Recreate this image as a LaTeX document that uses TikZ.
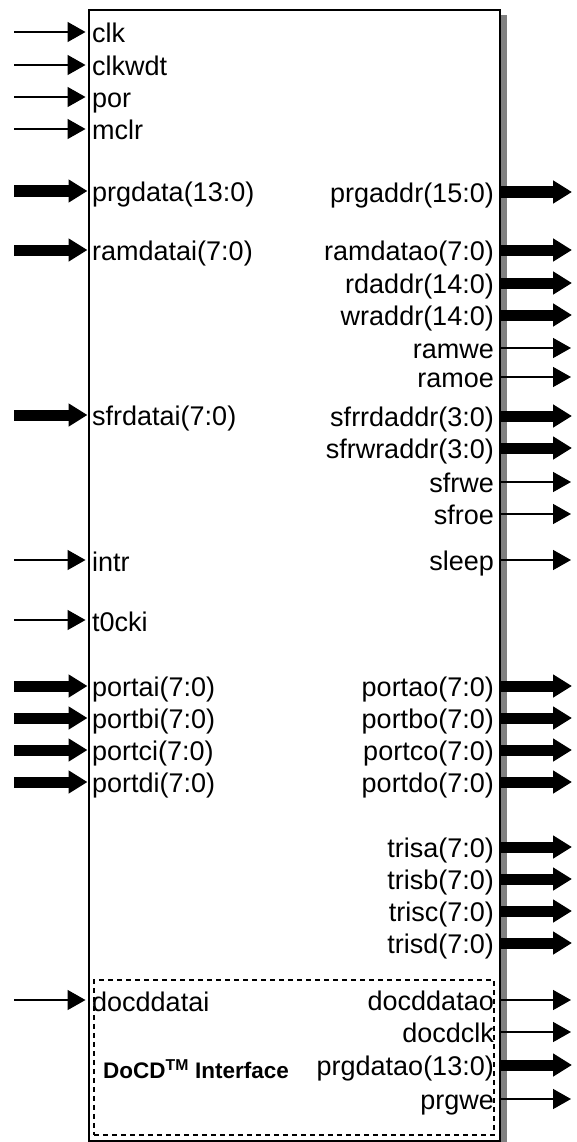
\documentclass[tikz,border=0pt]{standalone}
\usepackage{fontspec}
\setmainfont{Liberation Sans}
\usetikzlibrary{arrows.meta}
\tikzset{
  lbl/.style={inner sep=0pt, font=\fontsize{27}{30}\selectfont},
  thinarrow/.style={line width=1.5pt, -{Triangle[length=18pt,width=20pt]}},
  thickarrow/.style={line width=11pt, -{Triangle[length=19pt,width=22pt]}},
  chipbox/.style={draw=black, line width=2pt, fill=white, inner sep=0pt, anchor=north west},
  docdbox/.style={draw=black, line width=1.5pt, dash pattern=on 5pt off 4pt, inner sep=0pt, anchor=north west},
  shadowbar/.style={fill=black!50, draw=none},
}
\begin{document}
\begin{tikzpicture}[x=1pt,y=-1pt]
\useasboundingbox (0,0) rectangle (577,1142);
% shadow
\fill[shadowbar] (500,15) rectangle (507,1142);
% chip
\node[chipbox, minimum width=411.5pt, minimum height=1131pt] (chip) at (87.5,9) {};
% DoCD region
\node[docdbox, minimum width=400pt, minimum height=155pt] (docd) at (93,979) {};
\node[anchor=base west, inner sep=0pt, font=\bfseries\fontsize{22.5}{25}\selectfont] (docdlbl) at (103,1078) {DoCD\textsuperscript{TM} Interface};
% left thin inputs
\foreach \t/\y [count=\i] in {clk/32, clkwdt/65, por/97, mclr/129, intr/560, t0cki/620, docddatai/1000}{
  \node[lbl, anchor=base west] (lt\i) at (92,{\y+11}) {\t};
  \coordinate (ltp\i) at (14,\y);
  \draw[thinarrow, shorten >=2pt] (ltp\i) -- (chip.west |- ltp\i);
}
% left thick inputs
\foreach \t/\y [count=\i] in {prgdata(13:0)/191, ramdatai(7:0)/250, sfrdatai(7:0)/415, portai(7:0)/686, portbi(7:0)/718, portci(7:0)/750, portdi(7:0)/782}{
  \node[lbl, anchor=base west] (lk\i) at (92,{\y+10}) {\t};
  \coordinate (lkp\i) at (14,\y);
  \draw[thickarrow] (lkp\i) -- (chip.west |- lkp\i);
}
% right thick outputs
\foreach \t/\y [count=\i] in {prgaddr(15:0)/192, ramdatao(7:0)/250, rdaddr(14:0)/283, wraddr(14:0)/315, sfrrdaddr(3:0)/416, sfrwraddr(3:0)/448, portao(7:0)/686, portbo(7:0)/718, portco(7:0)/750, portdo(7:0)/782, trisa(7:0)/847, trisb(7:0)/879, trisc(7:0)/911, trisd(7:0)/943, prgdatao(13:0)/1065}{
  \node[lbl, anchor=base east] (rk\i) at (494,{\y+10}) {\t};
  \coordinate (rkp\i) at (572,\y);
  \draw[thickarrow] (chip.east |- rkp\i) -- (rkp\i);
}
% right thin outputs
\foreach \t/\y [count=\i] in {ramwe/348, ramoe/377, sfrwe/482, sfroe/514, sleep/560, docddatao/1000, docdclk/1032, prgwe/1099}{
  \node[lbl, anchor=base east] (rt\i) at (494,{\y+10}) {\t};
  \coordinate (rtp\i) at (571,\y);
  \draw[thinarrow] (chip.east |- rtp\i) -- (rtp\i);
}
\end{tikzpicture}
\end{document}
